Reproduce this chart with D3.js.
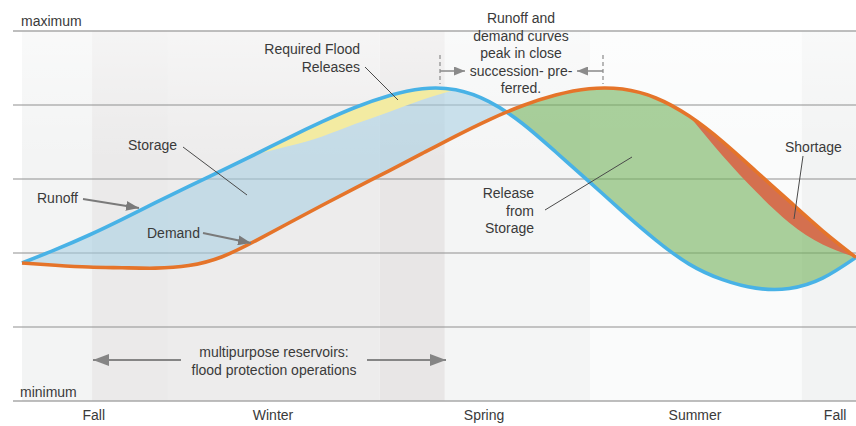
<!DOCTYPE html>
<html>
<head>
<meta charset="utf-8">
<script src="https://cdn.jsdelivr.net/npm/d3@7"></script>
<style>
  body { margin: 0; background: #fff; }
  text { font-family: 'Liberation Sans', Arial, sans-serif; font-size: 14px; fill: #3a3a3a; }
</style>
</head>
<body>
<div id="chart"></div>
<script>
// time runs 0..100 across the water year, level runs 0 (minimum) .. 100 (maximum)
const xs = [0, 4, 8, 12, 16, 20, 24, 28, 32, 36, 40, 44, 48, 52, 56, 60, 64, 68, 72, 76, 80, 84, 88, 92, 96, 100]
const runoff = [37.3, 40.9, 44.8, 49.1, 53.6, 58.0, 62.3, 66.7, 71.2, 75.5, 79.4, 82.5, 84.4, 84.1, 80.9, 75.0, 67.3, 59.3, 51.2, 43.5, 37.0, 32.8, 30.5, 30.4, 33.2, 38.8]
const demand = [37.3, 36.7, 36.2, 36.0, 35.9, 36.6, 39.0, 43.3, 48.1, 52.9, 57.6, 62.2, 66.9, 71.6, 76.0, 79.8, 82.7, 84.4, 84.3, 81.9, 77.0, 70.1, 62.1, 54.0, 46.0, 38.8]
// lower edge of the required flood release wedge (from xs[7]) and of the shortage wedge (from xs[20])
const floodCap = [66.7, 68.9, 71.5, 74.9, 78.1, 81.4, 84.1]
const floodStart = 7
const shortageFloor = [77.0, 66.3, 56.6, 48.2, 42.3, 38.8]
const shortageStart = 20

const seasons = ['Fall', 'Winter', 'Spring', 'Summer', 'Fall']
const seasonAt = [8.6, 30.1, 55.4, 80.7, 97.5]
const levels = [0, 20, 40, 60, 80, 100]
const bandEdges = [0, 8.4, 17.5, 42.9, 50.7, 68.1, 93.5, 100]

const bandColors = ['#f3f4f4', '#ebeaea', '#edecec', '#e8e6e6', '#f4f5f5', '#fafbfb', '#f2f3f3']

const width = 856
const height = 426
const x = d3.scaleLinear().domain([0, 100]).range([22, 856])
const y = d3.scaleLinear().domain([0, 100]).range([401, 31])

const svg = d3.select('#chart').append('svg')
  .attr('width', width)
  .attr('height', height)

const defs = svg.append('defs')

const fade = defs.append('linearGradient')
  .attr('id', 'fade').attr('x1', 0).attr('x2', 0).attr('y1', 0).attr('y2', 1)
fade.append('stop').attr('offset', '0%').attr('stop-color', '#fff').attr('stop-opacity', 0.5)
fade.append('stop').attr('offset', '35%').attr('stop-color', '#fff').attr('stop-opacity', 0)

const marker = (id, color, w, h) => defs.append('marker')
  .attr('id', id)
  .attr('viewBox', `0 0 ${w} ${h}`)
  .attr('refX', w).attr('refY', h / 2)
  .attr('markerWidth', w).attr('markerHeight', h)
  .attr('markerUnits', 'userSpaceOnUse')
  .attr('orient', 'auto')
  .append('path')
  .attr('d', `M0,0L${w},${h / 2}L0,${h}Z`)
  .attr('fill', color)

marker('arrowSmall', '#7a7a7a', 13, 10)
marker('arrowBig', '#858585', 16, 12)
marker('arrowBracket', '#8a8a8a', 11, 9)

// background season bands
svg.selectAll('.band')
  .data(d3.pairs(bandEdges))
  .enter().append('rect')
  .attr('x', d => x(d[0]))
  .attr('width', d => x(d[1]) - x(d[0]))
  .attr('y', y(100))
  .attr('height', y(0) - y(100))
  .attr('fill', (_, i) => bandColors[i])

svg.append('rect')
  .attr('x', x(0)).attr('width', x(100) - x(0))
  .attr('y', y(100)).attr('height', y(0) - y(100))
  .attr('fill', 'url(#fade)')

// level lines
svg.selectAll('.level')
  .data(levels)
  .enter().append('line')
  .attr('x1', 13).attr('x2', width)
  .attr('y1', d => y(d)).attr('y2', d => y(d))
  .attr('stroke', (d) => (d === 0 || d === 100 ? '#a9a9a9' : '#8f8f8f'))
  .attr('stroke-width', d => (d === 0 || d === 100 ? 1.6 : 1.1))

// where demand overtakes runoff
let cross = 50
for (let i = 1; i < xs.length; i++) {
  const a = runoff[i - 1] - demand[i - 1]
  const b = runoff[i] - demand[i]
  if (a > 0 && b <= 0) {
    cross = xs[i - 1] + (xs[i] - xs[i - 1]) * a / (a - b)
    break
  }
}

defs.append('clipPath').attr('id', 'clipStore')
  .append('rect').attr('x', 0).attr('y', 0).attr('width', x(cross)).attr('height', height)
defs.append('clipPath').attr('id', 'clipRelease')
  .append('rect').attr('x', x(cross)).attr('y', 0).attr('width', width - x(cross)).attr('height', height)

const curve = d3.curveNatural
const between = d3.area()
  .x((_, i) => x(xs[i]))
  .y0((_, i) => y(demand[i]))
  .y1((_, i) => y(runoff[i]))
  .curve(curve)

svg.append('path')
  .attr('d', between(xs))
  .attr('fill', 'rgba(164,205,225,0.55)')
  .attr('clip-path', 'url(#clipStore)')

svg.append('path')
  .attr('d', between(xs))
  .attr('fill', 'rgba(115,178,92,0.6)')
  .attr('clip-path', 'url(#clipRelease)')

// required flood releases
const flood = d3.area()
  .x((_, i) => x(xs[floodStart + i]))
  .y0(d => y(d))
  .y1((_, i) => y(runoff[floodStart + i]))
  .curve(curve)

svg.append('path')
  .attr('d', flood(floodCap))
  .attr('fill', '#f3eba2')

// shortage
const shortage = d3.area()
  .x((_, i) => x(xs[shortageStart + i]))
  .y0(d => y(d))
  .y1((_, i) => y(demand[shortageStart + i]))
  .curve(curve)

svg.append('path')
  .attr('d', shortage(shortageFloor))
  .attr('fill', '#d4704f')

const line = vals => d3.line()
  .x((_, i) => x(xs[i]))
  .y(d => y(d))
  .curve(curve)(vals)

svg.append('path')
  .attr('d', line(runoff))
  .attr('fill', 'none')
  .attr('stroke', '#48b2e6')
  .attr('stroke-width', 3.6)

svg.append('path')
  .attr('d', line(demand))
  .attr('fill', 'none')
  .attr('stroke', '#e5742a')
  .attr('stroke-width', 3.6)

// axis-ish labels
svg.append('text').attr('x', 21).attr('y', 26).text('maximum')
svg.append('text').attr('x', 20).attr('y', 397).text('minimum')

svg.selectAll('.season')
  .data(seasons)
  .enter().append('text')
  .attr('x', (_, i) => x(seasonAt[i]))
  .attr('y', 420)
  .attr('text-anchor', 'middle')
  .text(d => d)

// annotations
const lines = (lx, ly, anchor, rows, step) => {
  const t = svg.append('text').attr('text-anchor', anchor)
  rows.forEach((r, i) => t.append('tspan').attr('x', lx).attr('y', ly + i * step).text(r))
}

const leader = (x1, y1, x2, y2) => svg.append('line')
  .attr('x1', x1).attr('y1', y1).attr('x2', x2).attr('y2', y2)
  .attr('stroke', '#4a4a4a').attr('stroke-width', 1)

lines(360, 54, 'end', ['Required Flood', 'Releases'], 18)
leader(365, 67, 398, 100)

lines(128, 150, 'start', ['Storage'], 18)
leader(183, 147, 247, 195)

lines(37, 203, 'start', ['Runoff'], 18)
svg.append('line')
  .attr('x1', 83).attr('y1', 199).attr('x2', 139).attr('y2', 208)
  .attr('stroke', '#7a7a7a').attr('stroke-width', 1.8)
  .attr('marker-end', 'url(#arrowSmall)')

lines(147, 238, 'start', ['Demand'], 18)
svg.append('line')
  .attr('x1', 203).attr('y1', 233).attr('x2', 251).attr('y2', 243)
  .attr('stroke', '#7a7a7a').attr('stroke-width', 1.8)
  .attr('marker-end', 'url(#arrowSmall)')

lines(521, 23, 'middle', ['Runoff and', 'demand curves', 'peak in close', 'succession- pre-', 'ferred.'], 17.5)
;[440, 603].forEach(bx => {
  svg.append('line')
    .attr('x1', bx).attr('x2', bx).attr('y1', 55).attr('y2', 84)
    .attr('stroke', '#8a8a8a').attr('stroke-width', 1.2)
    .attr('stroke-dasharray', '4,3')
})
svg.append('line')
  .attr('x1', 440).attr('y1', 71).attr('x2', 465).attr('y2', 71)
  .attr('stroke', '#8a8a8a').attr('stroke-width', 1.5)
  .attr('marker-end', 'url(#arrowBracket)')
svg.append('line')
  .attr('x1', 603).attr('y1', 71).attr('x2', 577).attr('y2', 71)
  .attr('stroke', '#8a8a8a').attr('stroke-width', 1.5)
  .attr('marker-end', 'url(#arrowBracket)')

lines(534, 198, 'end', ['Release', 'from', 'Storage'], 17.5)
leader(545, 210, 632, 157)

lines(785, 152, 'start', ['Shortage'], 18)
leader(803, 156, 794, 219)

lines(274, 357, 'middle', ['multipurpose reservoirs:', 'flood protection operations'], 17.5)
svg.append('line')
  .attr('x1', 181).attr('y1', 360).attr('x2', 93).attr('y2', 360)
  .attr('stroke', '#858585').attr('stroke-width', 2.2)
  .attr('marker-end', 'url(#arrowBig)')
svg.append('line')
  .attr('x1', 367).attr('y1', 360).attr('x2', 446).attr('y2', 360)
  .attr('stroke', '#858585').attr('stroke-width', 2.2)
  .attr('marker-end', 'url(#arrowBig)')
</script>
</body>
</html>
